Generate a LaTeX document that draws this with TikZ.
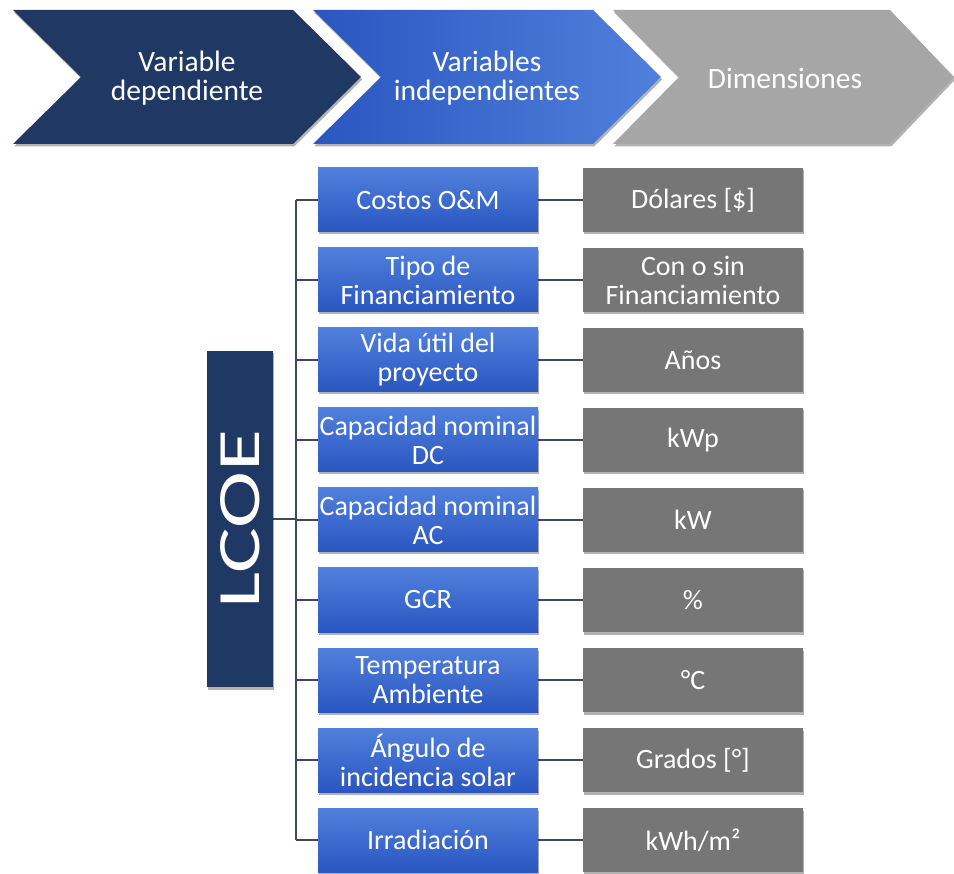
\documentclass[tikz,border=0pt]{standalone}
\usepackage{fontspec}
\setmainfont{Carlito}
\usetikzlibrary{shadows,backgrounds}
\definecolor{navy}{RGB}{31,56,100}
\definecolor{bluelight}{RGB}{80,128,220}
\definecolor{bluedark}{RGB}{42,86,192}
\definecolor{boxgray}{RGB}{118,118,118}
\definecolor{chevgray}{RGB}{166,166,166}
\definecolor{linkcol}{RGB}{66,72,100}
\begin{document}
\begin{tikzpicture}[x=1pt,y=-1pt,
  softshadow/.style={drop shadow={shadow xshift=1.2pt,shadow yshift=-2.5pt,opacity=0.3,fill=black}},
  varbox/.style={rectangle,minimum width=220pt,minimum height=64pt,inner sep=0pt,
    top color=bluelight,bottom color=bluedark,text=white,align=center,
    font=\fontsize{28}{29}\selectfont,softshadow},
  dimbox/.style={rectangle,minimum width=220pt,minimum height=64pt,inner sep=0pt,
    fill=boxgray,text=white,align=center,font=\fontsize{28}{29}\selectfont,softshadow},
  lcoebar/.style={rectangle,minimum width=336pt,minimum height=66pt,inner sep=0pt,
    fill=navy,text=white,font=\fontsize{60}{64}\selectfont,softshadow},
  chevtext/.style={text=white,align=center,font=\fontsize{29.5}{29.5}\selectfont},
  link/.style={draw=linkcol,line width=1.5pt}]
\useasboundingbox (0,0) rectangle (954,874);

% header chevrons
\fill[navy,softshadow] (13,10) -- (293,10) -- (361,77) -- (293,144) -- (13,144) -- (81,77) -- cycle;
\path[left color=bluedark,right color=bluelight,softshadow] (313,10) -- (593,10) -- (661,77) -- (593,144) -- (313,144) -- (381,77) -- cycle;
\fill[chevgray,softshadow] (613,10) -- (890,10) -- (954,77) -- (890,144) -- (613,144) -- (679,77) -- cycle;
\node[chevtext] (h1) at (187,78) {Variable\\dependiente};
\node[chevtext] (h2) at (487,78) {Variables\\independientes};
\node[chevtext] (h3) at (785,78) {Dimensiones};

% dependent variable
\node[lcoebar,rotate=90] (lcoe) at (240,519) {\scalebox{1.43}[1]{LCOE}};

% independent variables and their dimensions
\node[varbox] (v1) at (428,200) {Costos O\&M};
\node[varbox] (v2) at (428,280) {Tipo de\\Financiamiento};
\node[varbox] (v3) at (428,360) {Vida útil del\\proyecto};
\node[varbox] (v4) at (428,440) {Capacidad nominal\\DC};
\node[varbox] (v5) at (428,520) {Capacidad nominal\\AC};
\node[varbox] (v6) at (428,600) {GCR};
\node[varbox] (v7) at (428,680) {Temperatura\\Ambiente};
\node[varbox] (v8) at (428,760) {Ángulo de\\incidencia solar};
\node[varbox] (v9) at (428,840) {Irradiación};

\node[dimbox] (d1) at (693,200) {Dólares [\$]};
\node[dimbox] (d2) at (693,280) {Con o sin\\Financiamiento};
\node[dimbox] (d3) at (693,360) {Años};
\node[dimbox] (d4) at (693,440) {kWp};
\node[dimbox] (d5) at (693,520) {kW};
\node[dimbox] (d6) at (693,600) {\%};
\node[dimbox] (d7) at (693,680) {°C};
\node[dimbox] (d8) at (693,760) {Grados [°]};
\node[dimbox] (d9) at (693,840) {kWh/m²};

\coordinate (trunk) at (296,520);

\begin{scope}[on background layer]
  \draw[link] (trunk |- v1.west) -- (trunk |- v9.west);
  \draw[link] (lcoe.center) -- (trunk |- lcoe.center);
  \foreach \i in {1,...,9} {
    \draw[link] (trunk |- v\i.west) -- (v\i.west);
    \draw[link] (v\i.east) -- (d\i.west);
  }
\end{scope}
\end{tikzpicture}
\end{document}
